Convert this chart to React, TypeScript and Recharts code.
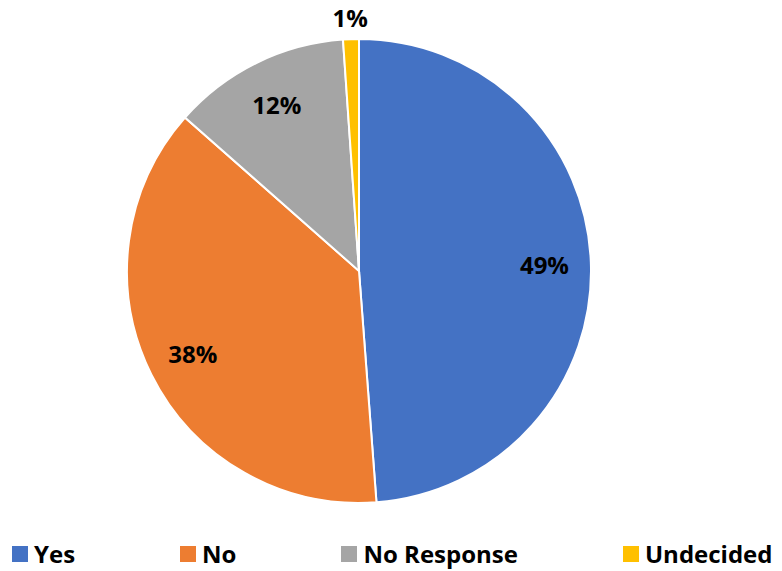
import { Pie, PieChart, Cell } from "recharts";

const categories = ["Yes", "No", "No Response", "Undecided"];
const shares = [48.8, 37.7, 12.4, 1.1];
const colors = ["#4472C4", "#ED7D31", "#A5A5A5", "#FFC000"];

const data = categories.map((name, i) => ({ name, value: shares[i] }));

const FONT = "'Open Sans', 'Liberation Sans', sans-serif";
const RAD = Math.PI / 180;

// inside labels for big slices, above the rim for tiny ones
function SliceLabel(props: any) {
  const { cx, cy, midAngle, outerRadius, value } = props;
  const r = value < 5 ? outerRadius + 22 : outerRadius * 0.8;
  const x = cx + r * Math.cos(-midAngle * RAD);
  const y = cy + r * Math.sin(-midAngle * RAD);
  return (
    <text
      x={x}
      y={y}
      textAnchor="middle"
      dominantBaseline="central"
      fill="#000"
      fontFamily={FONT}
      fontWeight={700}
      fontSize={24}
    >
      {`${Math.round(value)}%`}
    </text>
  );
}

function LegendRow() {
  return (
    <div
      style={{
        position: "absolute",
        left: 12,
        top: 542,
        display: "flex",
        gap: 105,
        fontFamily: FONT,
        fontWeight: 700,
        fontSize: 24,
        lineHeight: "24px",
        color: "#000",
        whiteSpace: "nowrap",
      }}
    >
      {categories.map((name, i) => (
        <div key={name} style={{ display: "flex", alignItems: "center" }}>
          <span
            style={{
              display: "inline-block",
              width: 16,
              height: 16,
              background: colors[i],
              marginRight: 6,
            }}
          />
          <span>{name}</span>
        </div>
      ))}
    </div>
  );
}

export default function App() {
  return (
    <div
      style={{
        position: "absolute",
        left: 0,
        top: 0,
        width: 782,
        height: 571,
        background: "#fff",
        overflow: "hidden",
      }}
    >
      <PieChart
        width={782}
        height={530}
        margin={{ top: 0, right: 0, bottom: 0, left: 0 }}
      >
        <Pie
          data={data}
          dataKey="value"
          nameKey="name"
          cx={359}
          cy={271}
          outerRadius={232}
          startAngle={90}
          endAngle={-270}
          stroke="#fff"
          strokeWidth={2}
          label={SliceLabel}
          labelLine={false}
          isAnimationActive={false}
        >
          {data.map((d, i) => (
            <Cell key={d.name} fill={colors[i]} />
          ))}
        </Pie>
      </PieChart>
      <LegendRow />
    </div>
  );
}
